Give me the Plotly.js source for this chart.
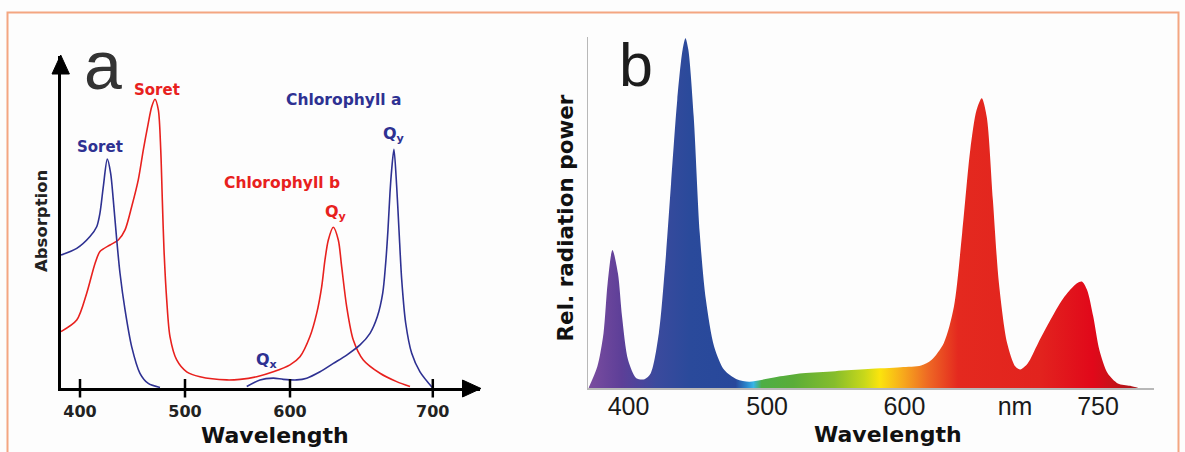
<!DOCTYPE html>
<html><head><meta charset="utf-8">
<script src="https://cdn.plot.ly/plotly-3.0.1.min.js"></script>
<style>html,body{margin:0;padding:0;background:#fff}#chart{width:1185px;height:452px}</style>
</head><body><div id="chart"></div>
<script>
// ---------- Panel a: absorption spectra ----------
const chlA_nm = [381.9,396.9,409.5,415.9,419.0,422.2,426.0,429.2,431.7,435.0,438.1,442.9,449.2,457.1,465.0,476.2,null,558.8,571.4,584.1,593.6,606.4,615.9,628.6,641.3,654.0,666.7,676.2,683.2,688.3,691.1,693.3,695.2,696.8,699.0,701.6,703.8,706.4,710.2,715.9,723.8,735.9];
const chlA_abs = [0.460,0.483,0.524,0.558,0.605,0.697,0.792,0.743,0.651,0.512,0.397,0.270,0.143,0.051,0.016,0.002,null,0.005,0.028,0.034,0.030,0.028,0.034,0.056,0.085,0.114,0.149,0.189,0.247,0.328,0.431,0.547,0.674,0.754,0.826,0.697,0.547,0.374,0.224,0.120,0.056,0.0];
const chlB_nm = [381.9,396.9,406.4,414.3,419.0,428.6,436.5,442.9,449.2,455.5,460.3,465.0,468.3,471.4,474.6,476.9,478.4,480.0,482.6,485.7,492.1,501.6,514.3,539.7,552.4,568.3,584.1,600.0,609.5,619.0,625.4,630.2,633.3,636.5,641.2,646.0,649.2,654.0,660.3,669.8,685.7,701.6,714.3];
const chlB_abs = [0.195,0.235,0.328,0.431,0.472,0.495,0.512,0.547,0.627,0.720,0.824,0.916,0.973,0.999,0.962,0.824,0.651,0.478,0.304,0.178,0.097,0.056,0.039,0.028,0.030,0.039,0.056,0.080,0.108,0.178,0.258,0.351,0.443,0.512,0.556,0.512,0.420,0.281,0.166,0.097,0.051,0.022,0.005];
const absTickVals = [400,500,600,736];
const absTickText = ['400','500','600','700'];

// ---------- Panel b: LED spectrum ----------
const led_nm = [370.8,377.3,381.8,384.8,388.3,392.3,395.3,399.7,405.7,411.7,416.2,422.1,426.6,431.0,435.5,439.4,441.5,443.6,447.5,451.9,456.4,462.4,469.8,478.8,487.8,496.7,508.7,526.6,550.5,574.4,598.3,613.1,620.6,629.6,637.0,643.0,648.9,653.5,657.3,660.9,665.4,669.8,675.8,681.8,685.4,690.7,698.3,708.7,717.6,726.6,730.2,734.0,738.5,743.0,749.0,756.4,765.4,771.9];
const led_power = [0,0.062,0.157,0.300,0.395,0.329,0.205,0.081,0.029,0.026,0.043,0.157,0.347,0.586,0.824,0.967,1.0,0.967,0.776,0.443,0.252,0.119,0.052,0.026,0.019,0.024,0.033,0.043,0.049,0.055,0.060,0.065,0.081,0.129,0.233,0.443,0.681,0.795,0.829,0.776,0.538,0.300,0.129,0.062,0.054,0.071,0.129,0.205,0.262,0.300,0.305,0.281,0.205,0.109,0.043,0.014,0.007,0];
const ledTickVals = [400,501,601,681.5,742];
const ledTickText = ['400','500','600','nm','750'];

// spectrum colours along wavelength
const specStops_nm = [371,395,420,445,478,486,491,497,520,550,572,583,600,618,640,700,738,752,772];
const specColors = ['#7b4d9f','#5d3f98','#3b4a9d','#2a4a9b','#28489b','#2b86cc','#38b4e6','#4dae45','#5aad38','#86bd2c','#c9d81a','#fbe40d','#f7a91c','#ee6924','#e4291f','#e2231e','#e1081a','#c91219','#a5161b'];

// ---------- layout helpers ----------
const W = 1185, H = 452;
const X = px => px / W;
const Y = py => 1 - py / H;

const BLUE = '#2e3192', RED = '#e8211e';
const BOLD = {family: 'DejaVu Sans', weight: 'bold'};

const gStart = led_nm[0], gStop = led_nm[led_nm.length - 1];
const colorscale = specStops_nm.map((v, i) => [Math.min(1, Math.max(0, (v - gStart) / (gStop - gStart))), specColors[i]]);
colorscale[0][0] = 0; colorscale[colorscale.length - 1][0] = 1;

const traces = [
  {x: chlB_nm, y: chlB_abs, xaxis: 'x', yaxis: 'y', mode: 'lines', line: {color: RED, width: 1.6, shape: 'spline', smoothing: 0.8}, hoverinfo: 'skip', connectgaps: false},
  {x: chlA_nm, y: chlA_abs, xaxis: 'x', yaxis: 'y', mode: 'lines', line: {color: BLUE, width: 1.6, shape: 'spline', smoothing: 0.8}, hoverinfo: 'skip', connectgaps: false},
  {x: led_nm, y: led_power, xaxis: 'x2', yaxis: 'y2', mode: 'lines', fill: 'tozeroy',
   line: {width: 0, shape: 'spline', smoothing: 0.8},
   fillgradient: {type: 'horizontal', colorscale: colorscale, start: gStart, stop: gStop},
   hoverinfo: 'skip'}
];

// axis geometry (pixels)
const aLeft = 60.7, aRight = 480, aBase = 388, aTop = 56;
const bLeft = 588.4, bRight = 1154, bBase = 388.3, bTop = 37;

const shapes = [];
// frame
shapes.push({type: 'path', xref: 'paper', yref: 'paper',
  path: `M ${X(7.5)} ${Y(470)} L ${X(7.5)} ${Y(12.5)} L ${X(1178.5)} ${Y(12.5)} L ${X(1178.5)} ${Y(470)}`,
  line: {color: '#f4a681', width: 2}});
// arrowheads panel a
shapes.push({type: 'path', xref: 'paper', yref: 'paper',
  path: `M ${X(60.7)} ${Y(55)} L ${X(52)} ${Y(74)} L ${X(69.4)} ${Y(74)} Z`,
  fillcolor: '#000', line: {color: '#000', width: 1}});
shapes.push({type: 'path', xref: 'paper', yref: 'paper',
  path: `M ${X(481)} ${Y(388.5)} L ${X(462.5)} ${Y(380)} L ${X(462.5)} ${Y(397)} Z`,
  fillcolor: '#000', line: {color: '#000', width: 1}});
// tick marks panel a (crossing the axis)
absTickVals.forEach(v => shapes.push({type: 'line', xref: 'x', yref: 'paper', x0: v, x1: v, y0: Y(379), y1: Y(397.5), line: {color: '#000', width: 2.5}}));

const annotations = [
  {text: 'a', x: X(103), y: Y(65.5), font: {family: 'Liberation Sans', size: 68, color: '#333'}},
  {text: 'b', x: X(636), y: Y(65.3), font: {family: 'Liberation Sans', size: 61, color: '#1d1d1d'}},
  {text: 'Soret', x: X(157), y: Y(90), font: {...BOLD, size: 15, color: RED}},
  {text: 'Soret', x: X(100), y: Y(147), font: {...BOLD, size: 15, color: BLUE}},
  {text: 'Chlorophyll a', x: X(343), y: Y(100), font: {...BOLD, size: 15.5, color: BLUE}},
  {text: 'Chlorophyll b', x: X(282), y: Y(183), font: {...BOLD, size: 15.5, color: RED}},
  {text: 'Q<sub>y</sub>', x: X(394), y: Y(135), font: {...BOLD, size: 16, color: BLUE}},
  {text: 'Q<sub>y</sub>', x: X(336), y: Y(212), font: {...BOLD, size: 16, color: RED}},
  {text: 'Q<sub>x</sub>', x: X(267), y: Y(360), font: {...BOLD, size: 16, color: BLUE}},
  {text: 'Absorption', x: X(42), y: Y(221), textangle: -90, font: {...BOLD, size: 16.5, color: '#222'}},
  {text: 'Wavelength', x: X(275), y: Y(435), font: {...BOLD, size: 22, color: '#111'}},
  {text: 'Rel. radiation power', x: X(565), y: Y(218.5), textangle: -90, font: {...BOLD, size: 21.5, color: '#111'}},
  {text: 'Wavelength', x: X(887.5), y: Y(434), font: {...BOLD, size: 22, color: '#111'}}
].map(a => Object.assign({xref: 'paper', yref: 'paper', showarrow: false, xanchor: 'center', yanchor: 'middle'}, a));

const layout = {
  width: W, height: H,
  margin: {l: 0, r: 0, t: 0, b: 0},
  paper_bgcolor: '#fdfdfd', plot_bgcolor: 'rgba(0,0,0,0)',
  showlegend: false,
  xaxis: {domain: [X(aLeft), X(aRight)], range: [400 + (aLeft - 80) / 1.05, 400 + (aRight - 80) / 1.05],
    anchor: 'y', showgrid: false, zeroline: false, showline: true, linecolor: '#000', linewidth: 3,
    tickmode: 'array', tickvals: absTickVals, ticktext: absTickText, ticks: '',
    ticklabelstandoff: 7, tickfont: {...BOLD, size: 16, color: '#222'}},
  yaxis: {domain: [Y(aBase), Y(aTop)], range: [0, (aBase - aTop) / 289], anchor: 'x',
    showgrid: false, zeroline: false, showline: true, linecolor: '#000', linewidth: 3,
    showticklabels: false, ticks: ''},
  xaxis2: {domain: [X(bLeft), X(bRight)], range: [400 + (bLeft - 628.5) / 1.373, 400 + (bRight - 628.5) / 1.373],
    anchor: 'y2', showgrid: false, zeroline: false, showline: true, linecolor: '#b8b8b8', linewidth: 1.5,
    tickmode: 'array', tickvals: ledTickVals, ticktext: ledTickText, ticks: '',
    ticklabelstandoff: -5, tickfont: {family: 'Liberation Sans', size: 25, color: '#1a1a1a'}},
  yaxis2: {domain: [Y(bBase), Y(bTop)], range: [0, (bBase - bTop) / 350], anchor: 'x2',
    showgrid: false, zeroline: false, showline: true, linecolor: '#b8b8b8', linewidth: 1.5,
    showticklabels: false, ticks: ''},
  shapes: shapes,
  annotations: annotations
};

Plotly.newPlot('chart', traces, layout, {staticPlot: true, displayModeBar: false});
</script>
</body></html>
